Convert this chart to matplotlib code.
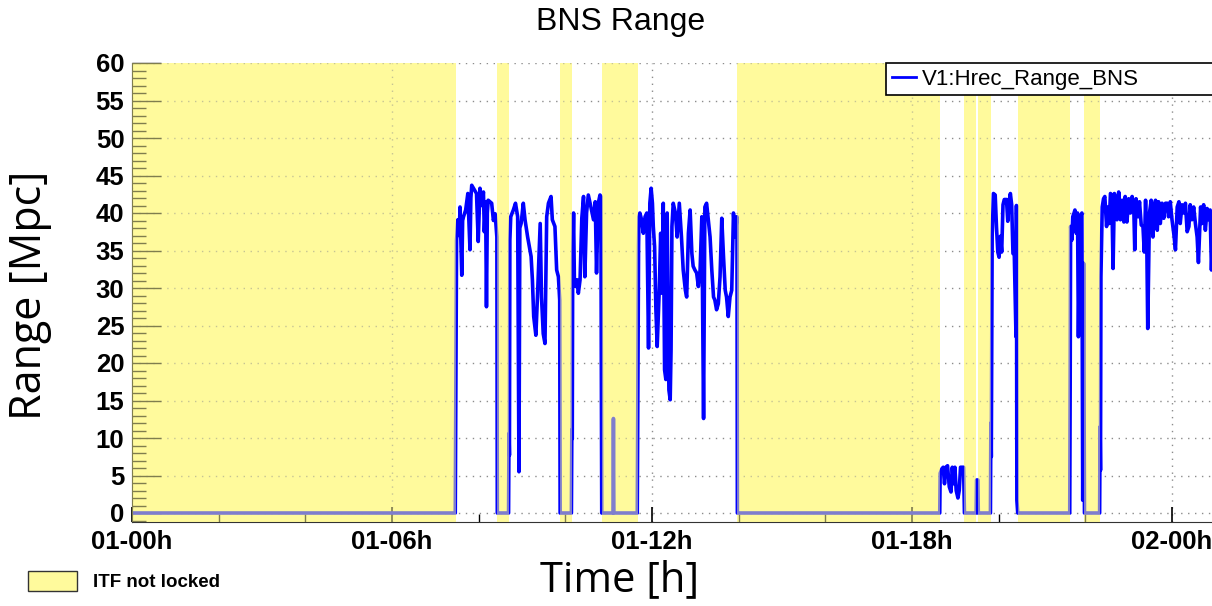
import matplotlib.pyplot as plt
from matplotlib.patches import Patch
from matplotlib.ticker import MultipleLocator

# time in hours after 01-00h, BNS range in Mpc
hours = [
    0.00, 7.46,
    7.47, 7.49, 7.52, 7.55, 7.57, 7.61, 7.63, 7.65, 7.70, 7.75, 7.80, 7.82, 7.84,
    7.90, 7.95, 7.99, 8.03, 8.07, 8.11, 8.13, 8.16, 8.18, 8.20, 8.22, 8.30, 8.34,
    8.38, 8.42, 8.43,
    8.69, 8.70, 8.71, 8.72, 8.74, 8.80, 8.85, 8.90, 8.93, 8.95, 8.98, 9.03, 9.07,
    9.13, 9.21, 9.24, 9.27, 9.32, 9.36, 9.42, 9.45, 9.49, 9.53, 9.57, 9.61, 9.67,
    9.70, 9.76, 9.80, 9.84, 9.87, 9.88,
    10.14, 10.15, 10.16, 10.17, 10.19, 10.21, 10.24, 10.27, 10.30, 10.34, 10.38,
    10.42, 10.45, 10.49, 10.53, 10.59, 10.65, 10.69, 10.72, 10.76, 10.80, 10.82,
    10.84,
    11.10, 11.11, 11.12,
    11.66, 11.67, 11.69, 11.70, 11.72, 11.76, 11.80, 11.84, 11.88, 11.92, 11.95,
    11.98, 12.01, 12.03, 12.06, 12.09, 12.12, 12.15, 12.17, 12.20, 12.23, 12.26,
    12.29, 12.32, 12.35, 12.39, 12.42, 12.44, 12.46, 12.49, 12.54, 12.58, 12.63,
    12.68, 12.72, 12.77, 12.80, 12.84, 12.88, 12.92, 12.95, 12.99, 13.03, 13.07,
    13.11, 13.15, 13.19, 13.22, 13.26, 13.30, 13.34, 13.38, 13.42, 13.45, 13.49,
    13.53, 13.57, 13.61, 13.65, 13.69, 13.72, 13.76, 13.80, 13.84, 13.88, 13.92,
    13.96, 13.97,
    18.64, 18.65, 18.69, 18.72, 18.75, 18.78, 18.82, 18.86, 18.90, 18.93, 18.96,
    18.99, 19.02, 19.06, 19.09, 19.12, 19.16, 19.19, 19.21,
    19.48, 19.49, 19.52, 19.53,
    19.81, 19.82, 19.83, 19.85, 19.88, 19.92, 19.95, 19.98, 20.01, 20.04, 20.07,
    20.10, 20.13, 20.18, 20.21, 20.24, 20.27, 20.30, 20.33, 20.36, 20.40, 20.41,
    20.42, 20.44,
    21.64, 21.65, 21.66, 21.69, 21.71, 21.74, 21.76, 21.79, 21.82, 21.84, 21.86,
    21.89, 21.92, 21.94, 21.96, 21.98,
    22.33, 22.34, 22.35, 22.36, 22.39, 22.42, 22.45, 22.49, 22.52, 22.55, 22.58,
    22.61, 22.64, 22.67, 22.69, 22.73, 22.77, 22.81, 22.85, 22.89, 22.92, 22.96,
    23.00, 23.04, 23.08, 23.12, 23.14, 23.17, 23.22, 23.25, 23.29, 23.33, 23.36,
    23.39, 23.42, 23.44, 23.48, 23.52, 23.56, 23.59, 23.62, 23.66, 23.69, 23.73,
    23.77, 23.81, 23.85, 23.89, 23.92, 23.96, 24.00, 24.04, 24.08, 24.12, 24.16,
    24.19, 24.23, 24.27, 24.31, 24.35, 24.39, 24.42, 24.46, 24.50, 24.54, 24.58,
    24.61, 24.66, 24.69, 24.73, 24.77, 24.81, 24.85, 24.88, 24.91, 24.95, 25.30,
]
range_mpc = [
    0.0, 0.0,
    12.6, 36.4, 39.1, 37.0, 40.8, 31.7, 39.0, 39.5, 40.4, 42.6, 35.1, 42.0, 43.7,
    43.1, 42.6, 36.2, 43.3, 41.0, 42.8, 37.5, 41.5, 27.5, 40.0, 41.7, 41.3, 39.0,
    39.9, 36.8, 0.0,
    0.0, 10.6, 7.7, 36.4, 39.5, 40.4, 41.3, 39.5, 5.5, 38.0, 38.6, 41.3, 39.1,
    36.8, 34.2, 31.1, 26.2, 23.7, 29.3, 38.6, 28.8, 23.9, 22.6, 39.5, 41.3, 42.2,
    39.1, 38.2, 32.4, 31.5, 28.4, 0.0,
    0.0, 11.1, 9.9, 33.9, 40.0, 30.6, 30.2, 31.1, 29.3, 31.1, 39.3,
    42.2, 31.5, 40.0, 42.4, 40.8, 39.1, 41.5, 32.0, 41.3, 42.4, 42.2,
    0.0,
    0.0, 12.6, 0.0,
    0.0, 11.5, 35.5, 39.5, 40.0, 39.1, 37.3, 39.5, 40.0, 22.0, 41.3,
    43.3, 41.3, 38.2, 35.5, 27.1, 22.2, 27.1, 30.2, 37.3, 29.3, 41.3,
    19.1, 17.8, 40.0, 16.4, 15.1, 21.8, 38.2, 41.3, 40.0, 36.8, 41.3,
    36.8, 32.4, 29.7, 28.8, 37.3, 40.4, 34.6, 32.9, 32.4, 32.0, 30.2,
    32.4, 39.5, 12.6, 40.8, 41.3, 39.1, 36.8, 32.4, 28.8, 28.4, 27.1,
    27.9, 31.5, 39.3, 34.2, 29.7, 28.8, 26.2, 28.8, 29.7, 40.0, 36.8,
    39.5, 0.0,
    0.0, 5.3, 5.9, 6.1, 3.9, 6.1, 6.3, 3.5, 2.8, 6.1, 3.9,
    6.1, 3.0, 2.0, 3.0, 6.1, 6.1, 6.1, 0.0,
    0.0, 4.4, 4.4, 0.0,
    0.0, 12.0, 7.5, 36.9, 42.6, 42.4, 38.1, 34.8, 34.1, 36.9, 34.8,
    41.1, 41.8, 41.8, 38.9, 41.5, 42.6, 41.1, 34.6, 34.6, 23.5, 41.0,
    1.7, 0.0,
    0.0, 16.8, 38.2, 36.4, 39.5, 40.0, 40.4, 37.3, 40.0, 23.5, 33.0,
    39.5, 40.0, 1.7, 33.3, 0.0,
    0.0, 11.5, 5.7, 31.5, 40.8, 41.9, 42.2, 38.2, 40.8, 38.6, 42.6,
    42.4, 32.6, 42.6, 42.2, 39.1, 42.8, 39.1, 41.7, 38.8, 42.2, 38.8,
    41.9, 40.0, 42.2, 40.2, 35.1, 41.9, 39.5, 41.5, 38.4, 38.2, 34.8,
    41.7, 35.1, 24.6, 40.0, 41.7, 36.8, 40.8, 41.7, 37.7, 41.5, 38.6,
    41.3, 39.3, 41.3, 41.3, 39.5, 41.5, 39.1, 37.3, 35.1, 40.8, 41.5,
    38.6, 41.1, 40.0, 41.3, 37.5, 38.2, 41.1, 39.1, 40.8, 38.6, 36.8,
    33.4, 40.8, 38.6, 41.1, 37.7, 40.6, 39.1, 40.4, 32.4, 39.0, 40.0,
]

# periods where the interferometer was not locked
unlocked_start = [0.0, 8.42, 9.88, 10.84, 13.97, 19.20, 19.52, 20.44, 21.98]
unlocked_end = [7.47, 8.70, 10.15, 11.67, 18.64, 19.48, 19.82, 21.65, 22.34]

tick_hours = [0, 6, 12, 18, 24]
tick_labels = ['01-00h', '01-06h', '01-12h', '01-18h', '02-00h']

YELLOW = '#fffa9c'
W, H = 1212, 606
PX_PER_HOUR = 1040 / 24.0

fig = plt.figure(figsize=(W / 100, H / 100), dpi=100)
right_px = 1225
ax = fig.add_axes([132 / W, (H - 522) / H, (right_px - 132) / W, 459 / H])

for s, e in zip(unlocked_start, unlocked_end):
    ax.axvspan(s, e, color=YELLOW, lw=0, zorder=0.5)

line, = ax.plot(hours, range_mpc, color='#0000ff', lw=2.6, zorder=2,
                label='V1:Hrec_Range_BNS')

# second, translucent layer so the trace shows through the yellow
for s, e in zip(unlocked_start, unlocked_end):
    ax.axvspan(s, e, color=YELLOW, alpha=0.5, lw=0, zorder=3)

ax.set_xlim(0, (right_px - 132) / PX_PER_HOUR)
ax.set_ylim(-1.2, 60)

ax.set_xticks(tick_hours)
ax.set_xticklabels(tick_labels)
ax.xaxis.set_minor_locator(MultipleLocator(2))
ax.set_yticks(range(0, 61, 5))
ax.yaxis.set_minor_locator(MultipleLocator(1))

tick_font = dict(family='Liberation Sans', weight='bold', size=18.5)
for lab in ax.get_xticklabels() + ax.get_yticklabels():
    lab.set_fontproperties(tick_font)

ax.tick_params(axis='y', which='major', direction='in', length=21, width=1, pad=5.5)
ax.tick_params(axis='y', which='minor', direction='in', length=10, width=1)
ax.tick_params(axis='x', which='major', direction='in', length=11, width=1.2, pad=5.5)
ax.tick_params(axis='x', which='minor', direction='in', length=6, width=1)

ax.grid(True, which='major', color='#8c8c8c', linestyle=(0, (1, 4)), linewidth=1)
ax.spines['top'].set_visible(False)
ax.spines['right'].set_visible(False)
ax.spines['bottom'].set_color('#333333')

leg = ax.legend(handles=[line], loc='upper left', mode='expand',
                bbox_to_anchor=(0.690, 0.0, 0.5, 1.0), borderaxespad=0,
                borderpad=0.25, handlelength=1.1, handletextpad=0.25,
                fancybox=False, framealpha=1, edgecolor='black',
                prop=dict(family='Liberation Sans', size=16))
leg.get_frame().set_linewidth(1.2)
leg.get_lines()[0].set_linewidth(2)
leg.set_zorder(5)

fig.text(621 / W, 1 - 22 / H, 'BNS Range', ha='center', va='center',
         family='Liberation Sans', size=23)
fig.text(30 / W, 1 - 295 / H, 'Range [Mpc]', rotation=90, ha='center',
         va='center', family='Open Sans', size=31)
fig.text(620 / W, 1 - 580 / H, 'Time [h]', ha='center', va='center',
         family='Open Sans', size=30)

fig.legend(handles=[Patch(facecolor=YELLOW, edgecolor='#333333', lw=1)],
           labels=['ITF not locked'], loc='center left',
           bbox_to_anchor=(28 / W, 1 - 581 / H), frameon=False,
           borderpad=0, borderaxespad=0, handlelength=2.6, handleheight=1.3,
           handletextpad=0.85,
           prop=dict(family='Liberation Sans', weight='bold', size=13.5))

fig.savefig('out.png', dpi=100)
